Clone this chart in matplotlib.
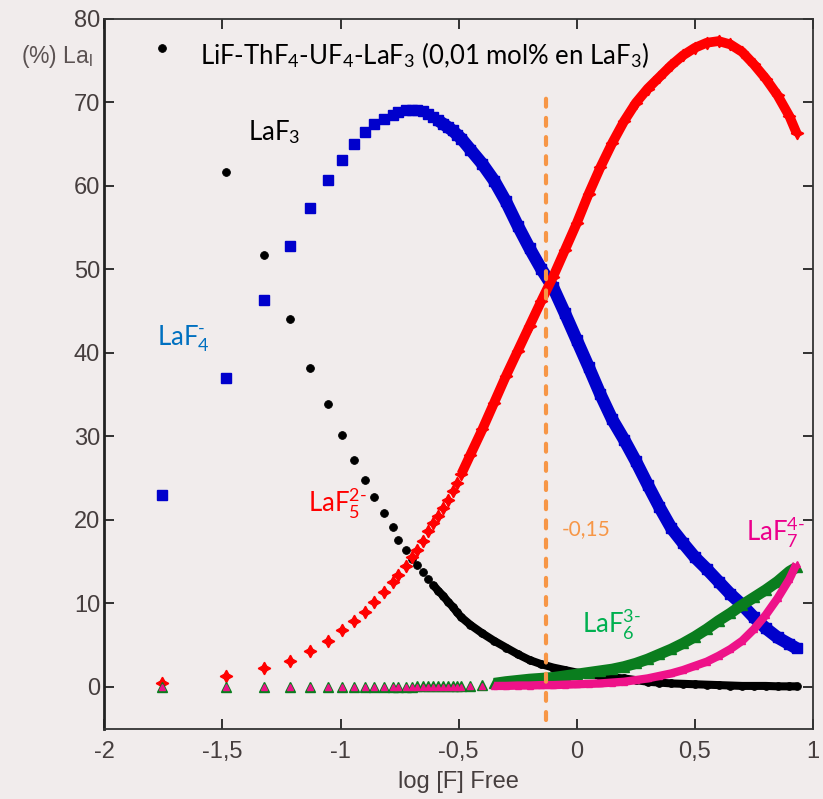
import matplotlib
matplotlib.use('Agg')
import matplotlib.pyplot as plt
import numpy as np

# log [F-] free (one shared grid for all species)
log_f = [-1.757, -1.485, -1.324, -1.213, -1.128, -1.052, -0.993, -0.942, -0.897,
         -0.858, -0.815, -0.780, -0.756, -0.723, -0.697, -0.675, -0.652, -0.630,
         -0.608, -0.587, -0.566, -0.546, -0.526, -0.507, -0.488,
         -0.45, -0.40, -0.35, -0.30, -0.25, -0.20, -0.15, -0.10, -0.05, 0.0,
         0.05, 0.10, 0.15, 0.20, 0.25, 0.30, 0.35, 0.40, 0.45, 0.50,
         0.55, 0.60, 0.65, 0.70, 0.75, 0.80, 0.85, 0.90, 0.93]

# % La per species
laf3 = [76.5, 61.6, 51.7, 44.0, 38.2, 33.9, 30.1, 27.2, 24.8,
        22.7, 20.8, 19.1, 17.6, 16.4, 15.3, 14.6, 13.7, 12.9,
        12.2, 11.5, 10.9, 10.2, 9.6, 8.9, 8.3,
        7.4, 6.4, 5.5, 4.7, 3.9, 3.2, 2.7, 2.3, 2.0, 1.7,
        1.5, 1.3, 1.1, 1.0, 0.8, 0.6, 0.5, 0.4, 0.35, 0.3,
        0.25, 0.2, 0.15, 0.1, 0.1, 0.1, 0.05, 0.05, 0.05]
laf4 = [23.0, 37.0, 46.3, 52.8, 57.3, 60.7, 63.1, 65.0, 66.4,
        67.4, 68.0, 68.4, 68.8, 69.0, 69.0, 69.0, 68.9, 68.6,
        68.2, 67.8, 67.4, 67.0, 66.6, 66.1, 65.6,
        64.3, 62.6, 60.6, 58.1, 55.2, 52.5, 50.0, 47.8, 44.7, 41.5,
        38.3, 35.0, 32.0, 29.6, 27.0, 24.2, 21.5, 19.0, 17.2, 15.5,
        14.1, 12.6, 11.1, 9.8, 8.3, 7.0, 5.9, 5.1, 4.6]
laf5 = [0.5, 1.3, 2.2, 3.1, 4.3, 5.5, 6.75, 7.9, 9.0,
        10.1, 11.3, 12.5, 13.4, 14.4, 15.5, 16.4, 17.5, 18.6,
        19.6, 20.5, 21.4, 22.3, 23.4, 24.4, 25.5,
        27.8, 30.8, 34.0, 37.2, 40.2, 43.2, 46.2, 49.1, 52.3, 55.5,
        59.0, 62.2, 65.1, 67.7, 69.9, 71.6, 73.0, 74.4, 75.6, 76.5,
        77.1, 77.3, 76.9, 76.0, 74.5, 72.8, 70.8, 68.3, 66.3]
laf6 = [0.0, 0.0, 0.0, 0.0, 0.0, 0.0, 0.0, 0.0, 0.0,
        0.0, 0.0, 0.0, 0.0, 0.0, 0.0, 0.05, 0.05, 0.05,
        0.05, 0.05, 0.1, 0.1, 0.1, 0.1, 0.1,
        0.15, 0.25, 0.4, 0.6, 0.75, 0.9, 1.0, 1.1, 1.3, 1.5,
        1.7, 1.9, 2.1, 2.4, 2.8, 3.3, 3.9, 4.5, 5.2, 6.0,
        6.9, 7.9, 8.8, 9.8, 10.7, 11.6, 12.6, 13.8, 14.3]
laf7 = [0.0, 0.0, 0.0, 0.0, 0.0, 0.0, 0.0, 0.0, 0.0,
        0.0, 0.0, 0.0, 0.0, 0.0, 0.0, 0.0, 0.0, 0.0,
        0.0, 0.0, 0.0, 0.0, 0.0, 0.0, 0.0,
        0.05, 0.05, 0.1, 0.1, 0.15, 0.15, 0.2, 0.2, 0.25, 0.3,
        0.35, 0.4, 0.5, 0.6, 0.8, 1.0, 1.3, 1.6, 2.0, 2.5,
        3.0, 3.7, 4.5, 5.5, 6.9, 8.6, 10.6, 12.9, 14.7]

x_ticks = [-2, -1.5, -1, -0.5, 0, 0.5, 1]
x_tick_labels = ['-2', '-1,5', '-1', '-0,5', '0', '0,5', '1']
y_ticks = [0, 10, 20, 30, 40, 50, 60, 70, 80]
cut_value = -0.13
cut_label = '-0,15'

BG = '#f1ecec'

plt.rcParams.update({
    'mathtext.fontset': 'custom',
    'mathtext.rm': 'Lato',
    'mathtext.it': 'Lato:italic',
    'mathtext.bf': 'Lato:bold',
})

fig = plt.figure(figsize=(8.23, 7.99), dpi=100, facecolor=BG)
ax = fig.add_axes([0.1267, 0.0882, 0.8612, 0.8886], facecolor=BG)

x = np.array(log_f)


def draw(y, color, marker, ms, lw, band_from, z, **kw):
    y = np.array(y)
    m = x >= band_from
    ax.plot(x, y, ls='none', marker=marker, ms=ms, color=color, zorder=z, **kw)
    ax.plot(x[m], y[m], color=color, lw=lw, solid_capstyle='butt',
            solid_joinstyle='round', zorder=z + 0.1)


draw(laf4, '#0000cc', 's', 6.5, 9, -0.60, 2, mec='#0000cc')
draw(laf3, 'black', 'o', 5.6, 5.8, -0.61, 3, mec='black', mew=0.6)
draw(laf5, '#ff0000', (4, 1, 0), 9, 7, -0.50, 4)
draw(laf6, '#0a7d1e', '^', 6.5, 8, -0.35, 5)
draw(laf7, '#ee1289', '^', 4.5, 6, -0.35, 6)

ax.axvline(cut_value, ymin=0.012, ymax=0.902, color='#f79646', lw=3,
           dashes=(1.9, 2.7), dash_capstyle='round', zorder=7)

ax.set_xlim(-2, 1)
ax.set_ylim(-5, 80)
ax.set_xticks(x_ticks)
ax.set_xticklabels(x_tick_labels)
ax.set_yticks(y_ticks)
ax.tick_params(direction='in', length=7, width=1.3, top=True, right=True,
               labelsize=17, labelcolor='#463e3e', color='#222222',
               labelfontfamily='Liberation Sans')
ax.tick_params(axis='x', pad=9)
ax.tick_params(axis='y', pad=3)
for side in ['top', 'right', 'bottom']:
    ax.spines[side].set_linewidth(1.3)
    ax.spines[side].set_color('#333333')
ax.spines['left'].set_linewidth(2)
ax.spines['left'].set_color('#222222')

fig.text(0.0255, 0.9208, r'(%) La$_{\mathregular{l}}$', fontsize=16.5,
         color='#5b5252', family='Liberation Sans', va='baseline')
fig.text(0.5571, 0.0138, 'log [F] Free', fontsize=17, color='#463e3e',
         family='Liberation Sans', ha='center', va='baseline')

lab = dict(family='Lato', va='baseline', fontsize=18.5, zorder=8)
ax.text(-1.595, 74.6, r'LiF-ThF$_4$-UF$_4$-LaF$_3$ (0,01 mol% en LaF$_3$)',
        color='black', **lab)
ax.text(-1.392, 65.4, r'LaF$_3$', color='black', **lab)
ax.text(-1.778, 40.9, r'LaF$_4^{\text{-}}$', color='#0070c0', **lab)
ax.text(-1.138, 20.9, r'LaF$_5^{\text{2-}}$', color='#ff0000', **lab)
ax.text(0.020, 6.4, r'LaF$_6^{\text{3-}}$', color='#00b050', **lab)
ax.text(0.718, 17.4, r'LaF$_7^{\text{4-}}$', color='#ec008c', **lab)
ax.text(-0.0645, 18.2, cut_label, color='#f79646', family='Lato',
        va='baseline', fontsize=15, zorder=8)

fig.savefig('out.png', dpi=100, facecolor=BG)
